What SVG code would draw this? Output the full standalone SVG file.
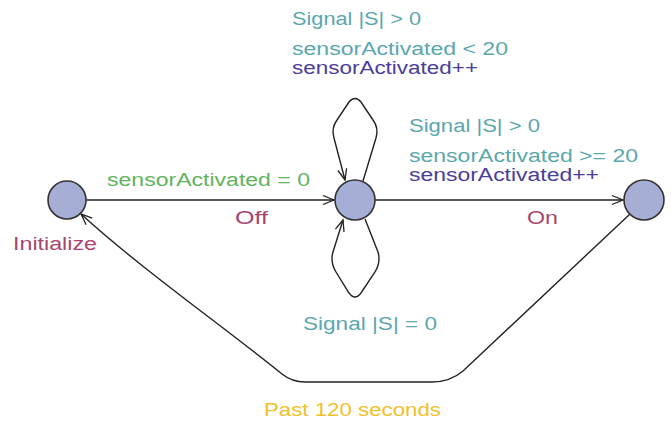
<svg xmlns="http://www.w3.org/2000/svg" width="671" height="425" viewBox="0 0 671 425">
<defs>
<marker id="arr" markerUnits="userSpaceOnUse" markerWidth="14" markerHeight="12" refX="12" refY="6" orient="auto">
<path d="M1,1.5 L12,6 L1,10.5" fill="none" stroke="#222" stroke-width="1.3"/>
</marker>
</defs>
<style>
.loc{fill:#a6aed6;stroke:#333;stroke-width:1.6}
.edge{fill:none;stroke:#222;stroke-width:1.4;marker-end:url(#arr)}
text{font-family:"Liberation Sans",Arial,sans-serif;font-size:18px}
.sync{fill:#5aa7ad}
.guard{fill:#5aa7ad}
.guard0{fill:#62b35e}
.upd{fill:#4b3d98}
.name{fill:#a8456f}
.inv{fill:#f0c12a}
</style>
<rect width="671" height="425" fill="#ffffff"/>
<g id="connectors">
<path class="edge" d="M86,200 L334,200"/>
<path class="edge" d="M375,200 L623,200"/>
<path class="edge" d="M363,181 L376,138 Q379,128 373,120 L361,102 Q355,95 349,102 L337,120 Q331,128 334,138 L345,180"/>
<path class="edge" d="M365,219 L378,252 Q381,262 375,272 L361,293 Q355,301 349,293 L336,272 Q330,262 333,252 L343,220"/>
<path class="edge" d="M630,214 L463,371 Q450,382 432,382 L305,382 Q292,382 282,374 C228,330 140,268 81,214"/>
</g>
<g id="node-initialize">
<circle class="loc" cx="67" cy="200" r="19"/>
<text class="name" x="13" y="250" textLength="84" lengthAdjust="spacingAndGlyphs">Initialize</text>
</g>
<g id="node-off">
<circle class="loc" cx="355" cy="200" r="20"/>
</g>
<g id="node-on">
<circle class="loc" cx="644" cy="200" r="20"/>
</g>
<g id="labels">
<text class="sync" x="292" y="25" textLength="129" lengthAdjust="spacingAndGlyphs">Signal |S| &gt; 0</text>
<text class="guard" x="292" y="55" textLength="216" lengthAdjust="spacingAndGlyphs">sensorActivated &lt; 20</text>
<text class="upd" x="292" y="74" textLength="186" lengthAdjust="spacingAndGlyphs">sensorActivated++</text>
<text class="sync" x="409" y="132" textLength="131" lengthAdjust="spacingAndGlyphs">Signal |S| &gt; 0</text>
<text class="guard" x="409" y="162" textLength="229" lengthAdjust="spacingAndGlyphs">sensorActivated &gt;= 20</text>
<text class="upd" x="409" y="181" textLength="190" lengthAdjust="spacingAndGlyphs">sensorActivated++</text>
<text class="guard0" x="107" y="186" textLength="203" lengthAdjust="spacingAndGlyphs">sensorActivated = 0</text>
<text class="name" x="235" y="224" textLength="33" lengthAdjust="spacingAndGlyphs">Off</text>
<text class="name" x="527" y="224" textLength="31" lengthAdjust="spacingAndGlyphs">On</text>
<text class="sync" x="303" y="330" textLength="134" lengthAdjust="spacingAndGlyphs">Signal |S| = 0</text>
<text class="inv" x="264" y="416" textLength="177" lengthAdjust="spacingAndGlyphs">Past 120 seconds</text>
</g>
</svg>
